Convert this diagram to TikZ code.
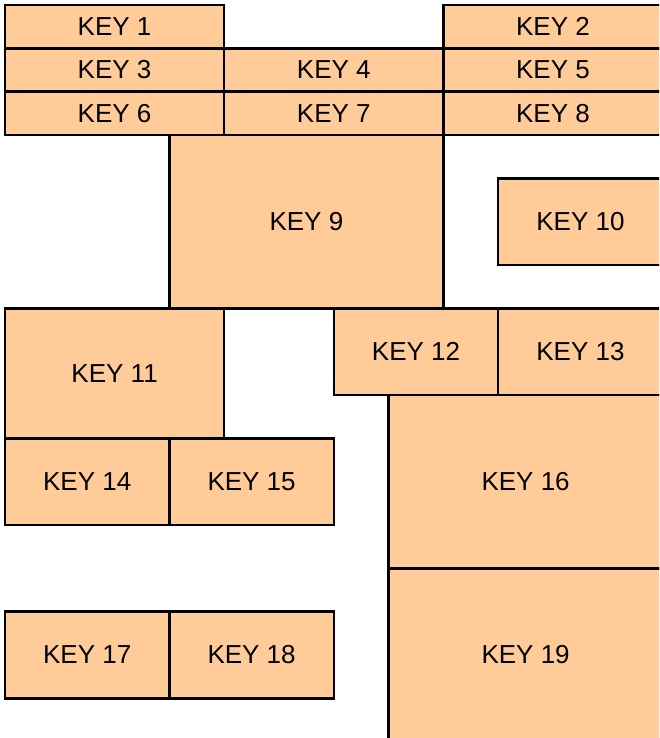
\documentclass[tikz,border=0pt]{standalone}
\usepackage{fontspec}
\setmainfont{Liberation Sans}
\definecolor{keyfill}{HTML}{FFCC99}
\begin{document}
\begin{tikzpicture}[x=1pt,y=-1pt,
  keybox/.style={draw=black,fill=keyfill,line width=2.5pt,inner sep=0pt},
  keylabel/.style={font=\fontsize{26}{30}\selectfont,text=black}]
\def\W{54.8}\def\H{43.33}
\useasboundingbox (0,0) rectangle (659,738);
\begin{scope}
\clip (0,0) rectangle (659,738);
% c1 r1 c2 r2 name text
\foreach \a/\b/\c/\d/\n in {
 0/0/4/1/1, 8/0/12/1/2,
 0/1/4/2/3, 4/1/8/2/4, 8/1/12/2/5,
 0/2/4/3/6, 4/2/8/3/7, 8/2/12/3/8,
 3/3/8/7/9, 9/4/12/6/10,
 0/7/4/10/11, 6/7/9/9/12, 9/7/12/9/13,
 0/10/3/12/14, 3/10/6/12/15,
 7/9/12/13/16, 7/13/12/17/19,
 0/14/3/16/17, 3/14/6/16/18}{
  \path[keybox] (5+\a*\W,5+\b*\H) rectangle (5+\c*\W,5+\d*\H);
  \node[keylabel] (k\n) at ({5+(\a+\c)*\W/2},{5+(\b+\d)*\H/2}) {KEY \n};
}
\end{scope}
\end{tikzpicture}
\end{document}
